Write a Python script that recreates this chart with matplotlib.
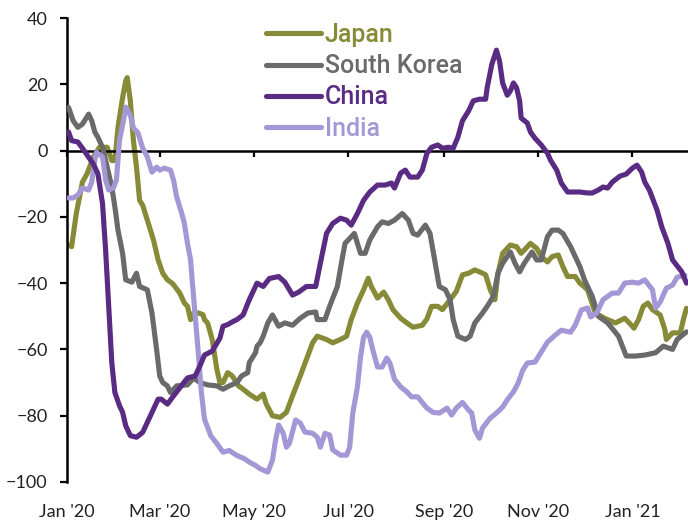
import matplotlib
matplotlib.use("Agg")
import matplotlib.pyplot as plt
import pandas as pd

# days since 1 Jan 2020 and index values
japan_day = [1, 3, 6, 10, 13, 17, 21, 26, 29, 31, 33, 36, 38, 39, 41, 43, 45, 47, 49, 52, 56, 59,
             62, 65, 68, 69, 73, 76, 78, 80, 82, 85, 88, 89, 91, 94, 97, 99, 101, 104, 107, 111,
             114, 118, 123, 127, 129, 133, 138, 142, 146, 151, 155, 159, 162, 168, 172, 177, 181,
             184, 188, 192, 195, 197, 201, 205, 208, 211, 216, 220, 224, 230, 233, 236, 240, 243,
             248, 252, 256, 260, 264, 269, 271, 274, 277, 279, 282, 287, 291, 294, 300, 304, 307,
             311, 314, 318, 321, 324, 329, 332, 337, 342, 348, 355, 361, 364, 367, 370, 373, 376,
             379, 384, 387, 388, 392, 397, 399, 401]
japan_val = [-28.5, -29, -19, -9.5, -7, -2, 1, 1, -3, -3, 7, 16, 21, 22, 15, 3, -5, -15, -16.5, -21,
             -27, -33, -37, -39, -40, -40.5, -43, -46, -47, -51, -49, -49, -49.5, -51, -52, -57, -66,
             -70, -70, -67, -68, -71, -72, -73.5, -75, -73.5, -76.5, -80, -80.5, -79, -74, -68, -63,
             -58, -56, -57, -58, -57, -56, -51, -46, -42, -38.5, -41, -44.5, -42.7, -45, -48, -50.6,
             -52, -53.3, -52.7, -50.8, -47, -47, -48, -45, -42.5, -37.5, -37, -36, -37, -37.5, -42,
             -45, -37, -31, -28.5, -29, -31, -28, -29.5, -32, -33.6, -32, -31.5, -35, -38, -38, -40,
             -42, -49, -50.6, -52, -50.6, -52, -53.6, -51, -47, -46, -48, -49.6, -54, -57, -55, -55,
             -51, -47.6]

korea_day = [1, 4, 7, 10, 14, 16, 18, 20, 23, 26, 29, 31, 33, 36, 38, 42, 45, 47, 52, 55, 58, 60,
             62, 65, 67, 71, 78, 82, 86, 91, 97, 101, 105, 110, 113, 117, 118, 122, 123, 125, 127,
             130, 133, 137, 141, 146, 151, 156, 161, 162, 167, 170, 175, 178, 180, 182, 186, 190,
             193, 196, 201, 204, 208, 212, 217, 221, 224, 227, 232, 235, 238, 241, 245, 248, 250,
             253, 258, 261, 264, 269, 272, 276, 279, 282, 287, 290, 293, 296, 301, 304, 307, 311,
             314, 318, 321, 326, 329, 332, 335, 340, 344, 350, 357, 362, 368, 374, 381, 386, 392,
             395, 401]
korea_val = [13, 9, 7, 8, 11, 9, 5.6, 4, 1, -5, -11, -17, -24, -31, -39, -39.7, -37, -41, -42, -49,
             -60, -68, -70, -71, -73, -71, -70.7, -68.6, -70, -70.7, -71, -72, -71, -70, -68, -67,
             -64, -61, -59, -58, -56, -52, -49.6, -53, -52, -52.7, -50.6, -49, -48.7, -51, -51, -47,
             -41, -33, -28, -27, -25, -31, -31, -27, -23, -21.5, -22, -21, -19, -21, -25, -25.5,
             -22.5, -25, -33, -41, -42, -45, -51, -56, -57, -56, -52, -49, -47, -44, -37, -34,
             -30.6, -34, -36.6, -34, -30.6, -33, -33, -26, -24, -24, -25, -29, -32, -35, -39, -44,
             -50, -52, -56, -62, -62, -61.7, -61, -59, -60, -57, -54.7]

china_day = [1, 3, 7, 10, 14, 17, 20, 23, 25, 27, 29, 31, 34, 36, 38, 41, 45, 49, 52, 56, 59, 61,
             65, 69, 74, 78, 83, 86, 89, 94, 99, 101, 104, 107, 110, 114, 118, 123, 127, 131, 137,
             141, 146, 150, 155, 161, 164, 168, 172, 177, 181, 184, 188, 192, 196, 201, 206, 210,
             212, 216, 219, 222, 227, 230, 233, 236, 240, 243, 247, 250, 253, 256, 260, 263, 267,
             271, 272, 275, 278, 280, 282, 285, 287, 289, 291, 293, 294, 298, 300, 303, 307, 311,
             313, 317, 320, 324, 328, 332, 337, 340, 344, 347, 350, 353, 358, 362, 366, 369, 372,
             374, 377, 382, 385, 389, 392, 398, 401]
china_val = [5.6, 3, 2.6, 0.7, -2, -4, -7, -16, -30, -47, -64, -73, -77, -79, -83, -86, -86.5, -85,
             -82, -78, -75, -75, -76.5, -74, -71, -68.6, -68, -65, -61.7, -60.5, -56.6, -53, -52.5,
             -51.7, -51, -49.6, -45, -40, -41, -38.6, -38, -39.7, -43.6, -42.7, -41, -41, -34, -25,
             -22, -20.4, -21, -22.5, -19, -15, -12.5, -10.4, -10.4, -9.8, -11.3, -6.8, -5.9, -8, -8,
             -5.9, -0.8, 1, 1.7, 0.7, 1, 0.7, 4, 9, 12, 15, 15.5, 15.5, 19, 26, 30.3, 27, 20.4, 16.7,
             18, 20.4, 19, 15, 9.8, 8.3, 5.6, 3.7, 1.7, -0.8, -2.9, -5.9, -9.8, -12.5, -12.5, -12.5,
             -12.8, -12.8, -11.9, -11, -11.3, -9.5, -7.7, -7.1, -5.3, -4.4, -6.5, -9.5, -11.9, -18,
             -23, -28, -33, -36.6, -40]

india_day = [1, 4, 7, 10, 14, 16, 18, 19, 23, 25, 27, 30, 32, 34, 37, 38, 41, 43, 46, 49, 52, 55,
             58, 60, 63, 67, 69, 71, 74, 76, 78, 80, 81, 83, 85, 87, 89, 93, 97, 101, 105, 110, 115,
             118, 122, 125, 130, 133, 135, 137, 140, 142, 144, 148, 151, 154, 159, 162, 164, 167,
             170, 172, 177, 181, 183, 185, 188, 190, 192, 194, 196, 198, 201, 204, 207, 209, 212,
             216, 220, 223, 227, 230, 233, 237, 241, 246, 249, 252, 256, 260, 262, 264, 267, 269,
             274, 278, 282, 285, 289, 292, 295, 298, 303, 307, 311, 316, 320, 326, 329, 333, 337,
             339, 343, 347, 353, 357, 361, 366, 370, 374, 379, 381, 384, 388, 392, 395, 400]
india_val = [-14.3, -14.3, -13.4, -11.3, -11.9, -9.5, -2.9, -0.5, -1.9, -8.9, -11.9, -11.3, -8.9,
             3.2, 10.1, 13.1, 10.7, 6.8, 5.3, 0.7, -1.9, -6.5, -5, -5.9, -5.3, -5.9, -9, -14, -18.5,
             -22, -28, -33, -39, -50, -61, -73, -81, -86, -88.4, -91, -90.5, -92, -93, -94, -95,
             -96, -97, -93.4, -87.4, -82.8, -85.3, -89.5, -88.3, -81.3, -82.2, -84.9, -85.3, -86.5,
             -89.5, -85.3, -85.8, -90.3, -91.9, -91.9, -89.5, -79.2, -71.3, -62.3, -56.3, -54.8,
             -56.3, -60.2, -65.3, -65.3, -62.6, -64.1, -69, -71.3, -72.8, -74.3, -74.3, -76, -77.7,
             -79, -79.2, -77.7, -79.8, -77.7, -76, -78.3, -79.2, -84.3, -86.8, -83.7, -80.7, -79.2,
             -77.4, -75.2, -72.8, -70.2, -66.3, -64.1, -63.8, -60.8, -57.8, -55.7, -54.2, -54.8,
             -52.7, -48.1, -47.5, -50.2, -49, -45, -43, -43, -40, -39.7, -40, -39, -42, -47.5,
             -45.7, -41.5, -40.6, -38.2, -37.6]

tick_months = ["2020-01-01", "2020-03-01", "2020-05-01", "2020-07-01", "2020-09-01",
               "2020-11-01", "2021-01-01"]
tick_labels = ["Jan '20", "Mar '20", "May '20", "Jul '20", "Sep '20", "Nov '20", "Jan '21"]

start = pd.Timestamp("2020-01-01")
tick_pos = [(pd.Timestamp(m) - start).days for m in tick_months]

fig = plt.figure(figsize=(6.88, 5.22), dpi=100)
ax = fig.add_axes([67 / 688, 40 / 522, 621 / 688, 464 / 522])

lw = 3.7
kw = dict(lw=lw, solid_capstyle="round", solid_joinstyle="round")
ax.plot(japan_day, japan_val, color="#878a36", label="Japan", zorder=2, **kw)
ax.plot(korea_day, korea_val, color="#6a6a6a", label="South Korea", zorder=3, **kw)
ax.plot(china_day, china_val, color="#5a2b83", label="China", zorder=5, **kw)
ax.plot(india_day, india_val, color="#a497d6", label="India", zorder=4, **kw)

ax.set_xlim(0, 402)
ax.set_ylim(-100, 40)
ax.set_yticks(range(-100, 41, 20))

ax.spines[["top", "right"]].set_visible(False)
ax.spines["bottom"].set_position(("data", 0))
ax.spines["bottom"].set_linewidth(1.8)
ax.spines["left"].set_linewidth(1.8)
ax.set_xticks(tick_pos)
ax.tick_params(axis="x", direction="out", length=4, width=1.6, labelbottom=False)
ax.tick_params(axis="y", direction="out", length=5, width=1.6, pad=9,
               labelsize=13, labelcolor="#222222")
for t in ax.get_yticklabels():
    t.set_fontfamily("Lato")

# month labels sit under the plot, not on the zero line
sec = ax.secondary_xaxis("bottom")
sec.set_xticks(tick_pos)
sec.set_xticklabels(tick_labels, fontfamily="Lato", fontsize=13, color="#222222")
sec.tick_params(length=0, pad=16)
sec.spines["bottom"].set_visible(False)

leg = ax.legend(loc="upper left", bbox_to_anchor=(266 / 688, 1 - 23 / 522),
                bbox_transform=fig.transFigure, frameon=False, borderpad=0,
                borderaxespad=0, handlelength=2.2, handletextpad=0.15,
                labelspacing=0.29, labelcolor="linecolor",
                prop=dict(family="Roboto", weight="medium", size=18))

fig.savefig("out.png", dpi=100)
